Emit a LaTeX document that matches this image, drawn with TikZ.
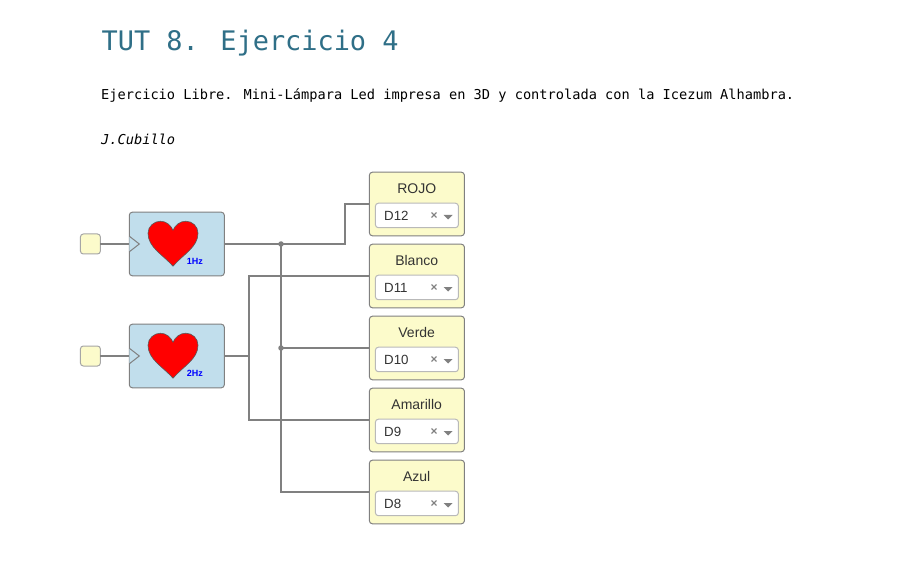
\documentclass[tikz,border=0pt]{standalone}
\usepackage{fontspec}
\setmainfont{Liberation Sans}
\newfontfamily\codefont{DejaVu Sans Mono}
\definecolor{wirec}{HTML}{808080}
\definecolor{edgec}{HTML}{808080}
\definecolor{paleY}{HTML}{FCFBCB}
\definecolor{paleB}{HTML}{C1DEEC}
\definecolor{titlec}{HTML}{2F6F87}
\definecolor{txtc}{HTML}{333333}
\tikzset{
  anybox/.style={draw=edgec,line width=1pt,rounded corners=3pt,inner sep=0pt,outer sep=0pt,anchor=north west},
  inbox/.style={anybox,fill=paleY,draw=gray!70,minimum width=20pt,minimum height=20pt},
  hbox/.style={anybox,fill=paleB,minimum width=95pt,minimum height=63.6pt},
  outbox/.style={anybox,fill=paleY,minimum width=95pt,minimum height=63.6pt},
  selbox/.style={anybox,fill=white,draw=gray!55,minimum width=83pt,minimum height=24.5pt},
  wire/.style={draw=wirec,line width=1.5pt},
  lbl/.style={font=\fontsize{14}{16}\selectfont,text=txtc,inner sep=0pt},
  pintxt/.style={font=\fontsize{13.3}{16}\selectfont,text=txtc,inner sep=0pt,anchor=west},
  xmark/.style={font=\bfseries\fontsize{12}{12}\selectfont,text=gray,inner sep=0pt},
  hz/.style={font=\bfseries\fontsize{9}{10}\selectfont,text=blue,inner sep=0pt},
  jdot/.style={circle,fill=wirec,inner sep=0pt,minimum size=5.5pt},
  page/.style={font=\codefont\fontsize{13.65}{16}\selectfont,text=black,inner sep=0pt,anchor=base west},
}
\newcommand{\hblock}[4]{% name, x, y, label
  \node[hbox] (#1) at (#2,#3) {};
  \draw[draw=edgec,line width=1pt,fill=paleB] (#2,#3+24) -- (#2+10,#3+31.8) -- (#2,#3+39.6);
  \fill[red,draw=black!65,line width=0.6pt]
    (#2+43.7,#3+54) .. controls (#2+33,#3+42) and (#2+18.7,#3+35) .. (#2+18.7,#3+21)
    .. controls (#2+18.7,#3+14) and (#2+25,#3+9) .. (#2+31,#3+9)
    .. controls (#2+37,#3+9) and (#2+41.5,#3+13) .. (#2+43.7,#3+18)
    .. controls (#2+46,#3+13) and (#2+50.5,#3+9) .. (#2+56.5,#3+9)
    .. controls (#2+63,#3+9) and (#2+68.7,#3+14) .. (#2+68.7,#3+21)
    .. controls (#2+68.7,#3+35) and (#2+54,#3+42) .. (#2+43.7,#3+54) -- cycle;
  \node[hz] (#1hz) at (#2+65.5,#3+49) {#4};
}
\newcommand{\outblock}[4]{% name, y, label, pin
  \node[outbox] (#1) at (369.4,#2) {};
  \node[lbl] (#1t) at (416.7,#2+16.3) {#3};
  \node[selbox] (#1s) at (375.4,#2+31) {};
  \node[pintxt] (#1p) at (384,#2+43.3) {#4};
  \node[xmark] (#1x) at (434,#2+43.8) {×};
  \fill[gray] (443.5,#2+42.8) -- (452.5,#2+42.8) -- (448,#2+47.3) -- cycle;
}
\begin{document}
\begin{tikzpicture}[x=1pt,y=-1pt]
\useasboundingbox (0,0) rectangle (923,561);
\fill[white] (0,0) rectangle (923,561);

\node[page,font=\codefont\fontsize{26.9}{30}\selectfont,text=titlec] (title) at (101.5,50.5) {TUT 8. Ejercicio 4};
\node[page] (desc) at (101,99.5) {Ejercicio Libre. Mini-Lámpara Led impresa en 3D y controlada con la Icezum Alhambra.};
\node[page,font=\codefont\itshape\fontsize{13.65}{16}\selectfont] (auth) at (101,145) {J.Cubillo};

\node[inbox] (in1) at (80.4,234) {};
\node[inbox] (in2) at (80.4,346) {};
\hblock{h1}{129.3}{212.2}{1Hz}
\hblock{h2}{129.3}{324.2}{2Hz}
\outblock{rojo}{172.2}{ROJO}{D12}
\outblock{blanco}{244.2}{Blanco}{D11}
\outblock{verde}{316.2}{Verde}{D10}
\outblock{amar}{388.2}{Amarillo}{D9}
\outblock{azul}{460.2}{Azul}{D8}

\coordinate (ja) at (281,244);
\coordinate (jb) at (281,348);
\coordinate (jc) at (281,492);
\coordinate (jd) at (249,356);
\coordinate (bend) at (345,244);

\draw[wire] (in1.east) -- (h1.west);
\draw[wire] (in2.east) -- (h2.west);
\draw[wire] (h1.east) -- (bend) |- (rojo.west);
\draw[wire] (ja) -- (jc) -- (azul.west);
\draw[wire] (jb) -- (verde.west);
\draw[wire] (h2.east) -- (jd);
\draw[wire] (blanco.west) -| (jd) |- (amar.west);
\node[jdot] (dota) at (ja) {};
\node[jdot] (dotb) at (jb) {};
\end{tikzpicture}
\end{document}
